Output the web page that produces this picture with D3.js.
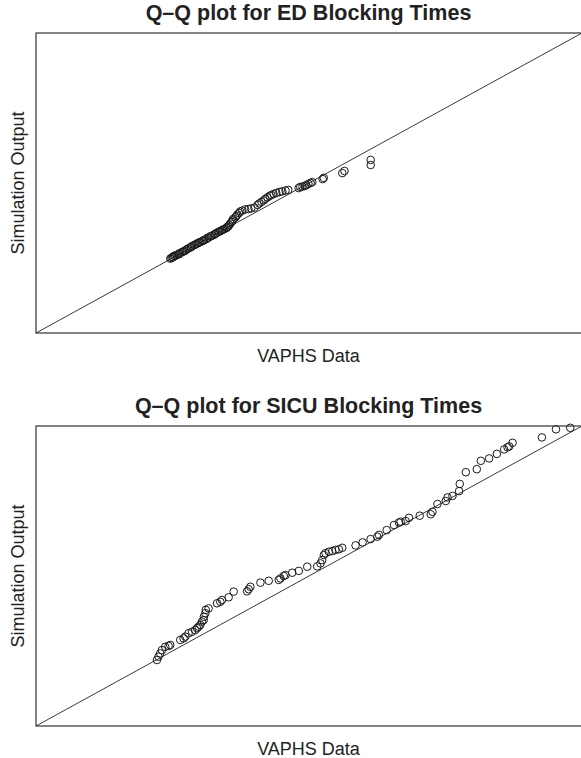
<!DOCTYPE html>
<html>
<head>
<meta charset="utf-8">
<script src="https://cdn.jsdelivr.net/npm/d3@7"></script>
<style>
  body { margin: 0; background: #fff; }
  text { font-family: "Liberation Sans", Arial, Helvetica, sans-serif; fill: #222; }
</style>
</head>
<body>
<div id="chart"></div>
<script>
// ED panel: sorted quantiles (VAPHS data vs simulation output)
const edVaphs = [24.6,24.8,25.0,25.1,25.3,25.5,25.7,26.1,26.2,26.4,26.8,27.0,27.2,27.5,27.7,27.9,28.3,28.4,28.6,29.0,
  29.2,29.4,29.7,29.9,30.1,30.5,30.6,30.8,31.2,31.4,31.6,31.9,32.1,32.3,32.7,32.8,33.0,33.4,33.6,33.8,
  34.1,34.3,34.5,34.9,35.0,35.2,35.4,35.6,35.8,36.0,36.1,36.5,36.7,36.9,37.2,37.4,37.8,38.3,38.9,39.4,
  40.0,40.6,40.9,41.3,41.7,42.0,42.4,42.8,43.1,43.5,44.0,44.6,45.1,45.7,46.2,48.1,48.4,48.8,49.2,49.5,
  49.9,50.3,50.6,52.5,52.7,56.1,56.5,61.3,61.3];
const edSim = [24.8,25.0,25.3,25.3,25.7,25.7,26.0,26.2,26.3,26.7,27.0,27.2,27.3,27.7,28.0,28.2,28.5,28.7,29.0,29.3,
  29.5,29.7,30.0,30.2,30.3,30.7,30.8,31.0,31.3,31.7,31.8,32.2,32.3,32.5,32.8,33.0,33.3,33.7,33.8,34.0,
  34.3,34.5,34.7,35.0,35.3,35.5,36.0,36.5,37.0,37.5,38.0,38.5,39.0,39.5,40.0,40.5,40.8,41.2,41.3,41.5,
  41.8,42.7,43.2,43.7,44.2,44.7,45.2,45.7,46.0,46.3,46.7,47.0,47.2,47.5,47.7,48.3,48.7,48.8,49.0,49.3,
  49.7,50.0,50.3,51.3,51.7,53.3,54.0,56.0,57.7];

// SICU panel
const sicuVaphs = [22.15,22.44,22.75,23.06,23.67,24.28,24.59,26.42,27.03,27.34,27.94,28.57,29.17,29.49,29.78,30.09,
  30.40,30.70,30.75,31.01,31.10,31.61,33.16,33.76,34.07,35.28,36.20,38.66,38.95,39.27,41.10,42.62,
  44.46,44.77,45.38,45.69,46.92,48.13,49.67,51.50,52.11,52.42,52.72,53.03,53.63,54.26,54.86,55.47,
  56.09,58.53,59.82,61.28,62.51,62.81,64.22,65.56,66.48,66.79,67.71,68.31,70.28,72.29,72.61,73.52,
  75.05,75.36,76.28,77.49,77.61,78.72,80.73,81.47,82.99,84.40,85.74,86.37,86.66,87.28,92.66,95.23,97.85];
const sicuSim = [22.0,23.1,24.2,25.3,26.4,26.7,27.0,28.7,29.2,29.8,30.9,31.4,32.0,32.6,33.1,33.7,
  34.8,35.3,36.4,37.6,38.7,39.2,40.9,41.4,42.0,42.9,44.8,44.9,45.6,46.4,47.8,48.4,
  48.7,49.2,50.0,50.3,51.1,51.7,53.1,53.2,54.2,55.3,57.0,57.6,58.1,58.3,58.7,58.9,
  59.4,60.2,61.2,62.3,63.1,63.7,65.3,67.0,67.8,68.1,68.3,69.4,70.1,70.6,71.4,74.0,
  75.0,76.2,76.7,78.3,80.7,84.6,85.6,88.4,89.2,90.7,92.2,92.9,93.2,94.4,96.2,98.9,99.4];

const axisLimits = [0, 100];
const panelTitles = ['Q\u2013Q plot for ED Blocking Times', 'Q\u2013Q plot for SICU Blocking Times'];
const xLabel = 'VAPHS Data';
const yLabel = 'Simulation Output';

const W = 581, H = 758;
const svg = d3.select('#chart').append('svg')
  .attr('width', W)
  .attr('height', H);

function drawPanel(top, title, xs, ys) {
  const box = { left: 36, right: 582, top: top, bottom: top + 300 };
  const g = svg.append('g');

  const x = d3.scaleLinear().domain(axisLimits).range([box.left, box.right]);
  const y = d3.scaleLinear().domain(axisLimits).range([box.bottom, box.top]);

  // y = x reference line
  g.append('line')
    .attr('x1', x(axisLimits[0])).attr('y1', y(axisLimits[0]))
    .attr('x2', x(axisLimits[1])).attr('y2', y(axisLimits[1]))
    .attr('stroke', '#222')
    .attr('stroke-width', 0.9);

  const pts = xs.map(function(d, i) { return { vaphs: d, sim: ys[i] }; });
  g.append('g').selectAll('circle')
    .data(pts)
    .enter().append('circle')
    .attr('cx', function(d) { return x(d.vaphs); })
    .attr('cy', function(d) { return y(d.sim); })
    .attr('r', 3.8)
    .attr('fill', 'none')
    .attr('stroke', '#1a1a1a')
    .attr('stroke-width', 1);

  g.append('rect')
    .attr('x', box.left).attr('y', box.top)
    .attr('width', box.right - box.left)
    .attr('height', box.bottom - box.top)
    .attr('fill', 'none')
    .attr('stroke', '#333')
    .attr('stroke-width', 1.2);

  const cx = (box.left + 581) / 2;
  g.append('text')
    .attr('x', cx)
    .attr('y', box.top - 13)
    .attr('text-anchor', 'middle')
    .attr('font-size', 21.5)
    .attr('font-weight', 'bold')
    .text(title);

  g.append('text')
    .attr('x', cx)
    .attr('y', box.bottom + 29)
    .attr('text-anchor', 'middle')
    .attr('font-size', 18)
    .text(xLabel);

  g.append('text')
    .attr('transform', 'translate(24,' + ((box.top + box.bottom) / 2) + ') rotate(-90)')
    .attr('text-anchor', 'middle')
    .attr('font-size', 18)
    .text(yLabel);
}

drawPanel(33, panelTitles[0], edVaphs, edSim);
drawPanel(426, panelTitles[1], sicuVaphs, sicuSim);
</script>
</body>
</html>
